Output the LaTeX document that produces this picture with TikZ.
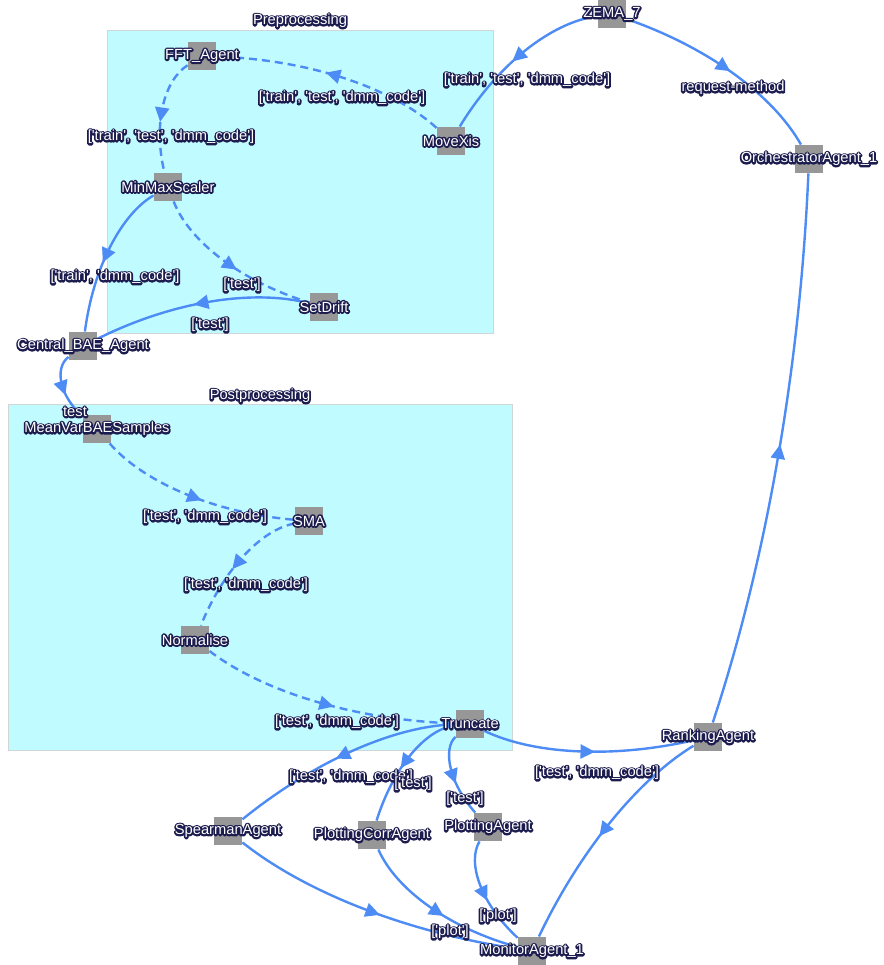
\documentclass[tikz,border=0pt]{standalone}
\usepackage{fontspec}
\setmainfont{Liberation Sans}
\usetikzlibrary{calc,arrows.meta,decorations.markings}
\definecolor{edgeblue}{RGB}{77,140,245}
\definecolor{agentgray}{RGB}{151,151,151}
\definecolor{halo}{RGB}{28,28,78}
\definecolor{clusterfill}{RGB}{192,252,255}
\definecolor{clusterline}{RGB}{208,214,214}
\pgfdeclarelayer{bg}
\pgfdeclarelayer{edges}
\pgfsetlayers{bg,edges,main}
\newcommand\ct[1]{\leavevmode\rlap{\special{pdf:literal direct 2 Tr 3.4 w 1 j 0.11 0.11 0.31 RG 0.11 0.11 0.31 rg}#1\special{pdf:literal direct 0 Tr 1 1 1 rg}}#1}
\newcommand\q{\textquotesingle}
\newcommand\ag[3]{\node[agent] (#1) at (#2) {};\node[lab] (#1-t) at (#2) {\ct{#3}};}
\newcommand\qe[4]{\coordinate (qc) at ($2*(#4)-0.5*(#2)-0.5*(#3)$);
  \draw[conn,#1] (#2) .. controls ($(#2)!2/3!(qc)$) and ($(#3)!2/3!(qc)$) .. (#3);}
\tikzset{
  agent/.style={fill=agentgray,minimum width=28.5pt,minimum height=28.5pt,inner sep=0pt,draw=none},
  lab/.style={text=white,inner sep=0pt,font=\fontsize{14.7}{17}\selectfont},
  conn/.style={draw=edgeblue,line width=2.4pt,postaction={decorate},
    decoration={markings,mark=at position 0.5 with {\arrow[xshift=7pt,fill=edgeblue,edgeblue]{Triangle[length=14.5pt,width=14pt]}}}},
  sol/.style={},
  dsh/.style={dash pattern=on 8pt off 5pt},
  cluster/.style={fill=clusterfill,draw=clusterline,line width=1pt,anchor=north west,inner sep=0pt}
}
\begin{document}
\begin{tikzpicture}[x=1pt,y=-1pt]
\useasboundingbox (0,0) rectangle (883,965);
\begin{pgfonlayer}{bg}
\fill[white] (0,0) rectangle (883,965);
\node[cluster,minimum width=386pt,minimum height=303pt] (pre) at (107,30) {};
\node[cluster,minimum width=504pt,minimum height=346pt] (post) at (8,404) {};
\end{pgfonlayer}
\node[lab] (pre-t) at (300,21) {\ct{Preprocessing}};
\node[lab] (post-t) at (260,396) {\ct{Postprocessing}};
\ag{fft}{202,56}{FFT\_Agent}
\ag{mv}{451,141}{MoveXis}
\ag{mm}{168,187}{MinMaxScaler}
\ag{sd}{324,307}{SetDrift}
\ag{cb}{83,346}{Central\_BAE\_Agent}
\ag{zema}{612,14}{ZEMA\_7}
\ag{orch}{809,159}{OrchestratorAgent\_1}
\ag{mvb}{97,429}{MeanVarBAESamples}
\ag{sma}{309,521}{SMA}
\ag{norm}{195,640}{Normalise}
\ag{trunc}{470,724}{Truncate}
\ag{rank}{708,737}{RankingAgent}
\ag{spear}{228,831}{SpearmanAgent}
\ag{pca}{372,835}{PlottingCorrAgent}
\ag{pa}{488,827}{PlottingAgent}
\ag{mon}{532,951}{MonitorAgent\_1}
\begin{pgfonlayer}{edges}
\qe{sol}{zema}{mv}{526,52}
\qe{sol}{zema}{orch}{733,75}
\qe{dsh}{mv}{fft}{345,80}
\qe{dsh}{fft}{mm}{165,107}
\qe{sol}{mm}{cb}{112,247}
\qe{dsh}{mm}{sd}{223,258}
\qe{sol}{sd}{cb}{210,303}
\qe{sol}{cb}{mvb}{65,383}
\qe{dsh}{mvb}{sma}{185,492}
\qe{dsh}{sma}{norm}{245,557}
\qe{dsh}{norm}{trunc}{315,700}
\qe{sol}{trunc}{spear}{353,752}
\qe{sol}{trunc}{pca}{413,755}
\qe{sol}{trunc}{pa}{454,768}
\qe{sol}{trunc}{rank}{577,750}
\qe{sol}{rank}{orch}{777,460}
\qe{sol}{rank}{mon}{612,822}
\qe{sol}{spear}{mon}{362,907}
\qe{sol}{pca}{mon}{430,905}
\qe{sol}{pa}{mon}{483,885}
\end{pgfonlayer}
\node[lab] (l1) at (527,80) {\ct{[\q train\q, \q test\q, \q dmm\_code\q]}};
\node[lab] (l2) at (733,88) {\ct{request-method}};
\node[lab] (l3) at (342,98) {\ct{[\q train\q, \q test\q, \q dmm\_code\q]}};
\node[lab] (l4) at (171,137) {\ct{[\q train\q, \q test\q, \q dmm\_code\q]}};
\node[lab] (l5) at (115,277) {\ct{[\q train\q, \q dmm\_code\q]}};
\node[lab] (l6) at (242,285) {\ct{[\q test\q]}};
\node[lab] (l7) at (210,325) {\ct{[\q test\q]}};
\node[lab] (l8) at (75,412) {\ct{test}};
\node[lab] (l9) at (205,517) {\ct{[\q test\q, \q dmm\_code\q]}};
\node[lab] (l10) at (246,585) {\ct{[\q test\q, \q dmm\_code\q]}};
\node[lab] (l11) at (337,722) {\ct{[\q test\q, \q dmm\_code\q]}};
\node[lab] (l12) at (351,777) {\ct{[\q test\q, \q dmm\_code\q]}};
\node[lab] (l13) at (413,784) {\ct{[\q test\q]}};
\node[lab] (l14) at (465,799) {\ct{[\q test\q]}};
\node[lab] (l15) at (597,773) {\ct{[\q test\q, \q dmm\_code\q]}};
\node[lab] (l19) at (450,932) {\ct{[\q plot\q]}};
\node[lab] (l20) at (498,916) {\ct{[\q plot\q]}};
\end{tikzpicture}
\end{document}
